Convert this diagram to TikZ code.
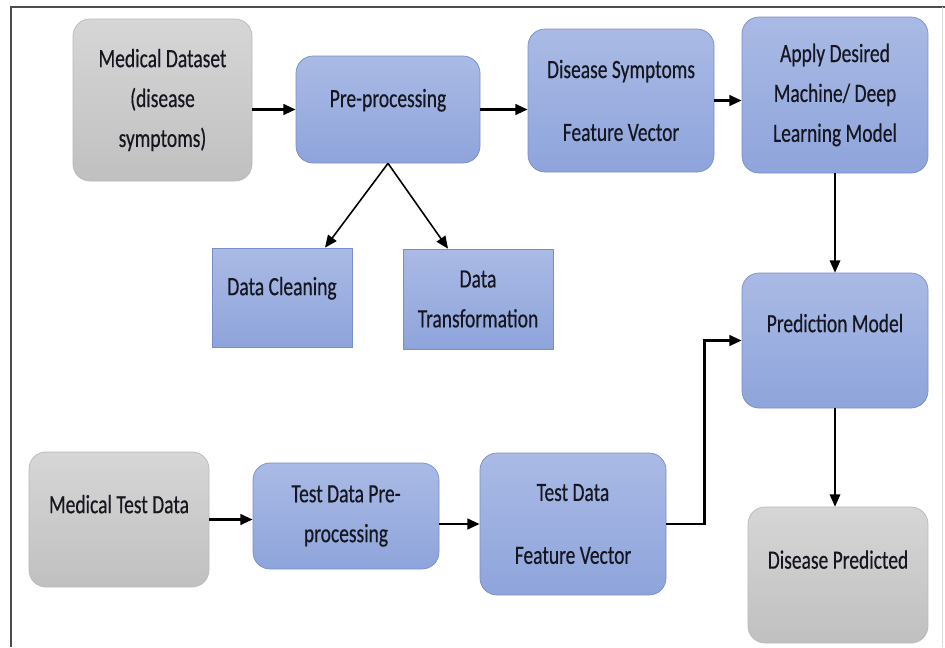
\documentclass[tikz,border=0pt]{standalone}
\usepackage{fontspec}
\setmainfont{Carlito}[FakeStretch=0.74,FakeBold=0.4]
\usetikzlibrary{arrows.meta,calc}
\definecolor{boxblue}{RGB}{142,164,219}
\definecolor{boxbluetop}{RGB}{170,186,229}
\definecolor{boxblueline}{RGB}{120,142,202}
\definecolor{boxgray}{RGB}{192,192,192}
\definecolor{boxgraytop}{RGB}{214,214,214}
\definecolor{boxgrayline}{RGB}{185,185,185}
\definecolor{inktext}{RGB}{22,22,32}
\begin{document}
\begin{tikzpicture}[x=0.02cm,y=-0.02cm]
          \tikzset{blue box/.style={draw=boxblueline,rounded corners=0.34cm,top color=boxbluetop,bottom color=boxblue,align=center,text=inktext,font=\fontsize{15}{22.7}\selectfont},
                   gray box/.style={blue box,draw=boxgrayline,top color=boxgraytop,bottom color=boxgray},
                   flat box/.style={blue box,rounded corners=0pt},
                   size/.style n args={2}{minimum width=#1*0.02cm,minimum height=#2*0.02cm},
                   lift/.style={text depth=#1},
                   arr/.style={-{Triangle[length=7pt,width=6pt]},line width=0.9pt,black},
                   fat arr/.style={arr,line width=1.5pt}}

          \useasboundingbox (0,0) rectangle (945,647);
          \draw[line width=0.7pt,black!70] (945,7) -- (11,7) -- (11,647);
          \draw[line width=0.5pt,black!15] (942,7) -- (942,647);

          \node [gray box, size={179}{162}] (dataset) at (162.5,100) {Medical Dataset\\(disease\\symptoms)};
          \node [blue box, size={184}{107}, lift=0.46cm] (prep) at (388,109.5) {Pre-processing};
          \node [blue box, size={186}{143}] (symvec) at (621,100.5) {Disease Symptoms\\[0.46cm]Feature Vector};
          \node [blue box, size={186}{156}] (model) at (835,95) {Apply Desired\\Machine/ Deep\\Learning Model};
          \node [flat box, size={140}{99}, lift=0.46cm] (clean) at (282,297.5) {Data Cleaning};
          \node [flat box, size={150}{100}] (transf) at (478,299) {Data\\Transformation};
          \node [blue box, size={186}{135}, lift=0.7cm] (predict) at (835,340.5) {Prediction Model};
          \node [gray box, size={180}{135}, lift=0.62cm] (testdata) at (119,519.5) {Medical Test Data};
          \node [blue box, size={186}{106}] (testprep) at (346,516) {Test Data Pre-\\processing};
          \node [blue box, size={186}{142}] (testvec) at (573,524) {Test Data\\[0.46cm]Feature Vector};
          \node [gray box, size={180}{136}, lift=0.62cm] (result) at (838,575) {Disease Predicted};

          \draw [fat arr] (prep.west -| dataset.east) -- (prep.west);
          \draw [fat arr] (prep.east) -- (prep.east -| symvec.west);
          \draw [fat arr] (symvec.east) -- (symvec.east -| model.west);
          \draw [arr] (prep.south) -- ($(clean.north)+(43,0)$);
          \draw [arr] (prep.south) -- ($(transf.north)+(-30,0)$);
          \draw [arr] (model.south) -- (predict.north);
          \draw [fat arr] (testdata.east) -- (testdata.east -| testprep.west);
          \draw [fat arr] (testvec.west -| testprep.east) -- (testvec.west);
          \draw [fat arr] (testvec.east) -- ++(38,0) |- (predict.west);
          \draw [arr] (predict.south) -- (predict.south |- result.north);


        \end{tikzpicture}
\end{document}
